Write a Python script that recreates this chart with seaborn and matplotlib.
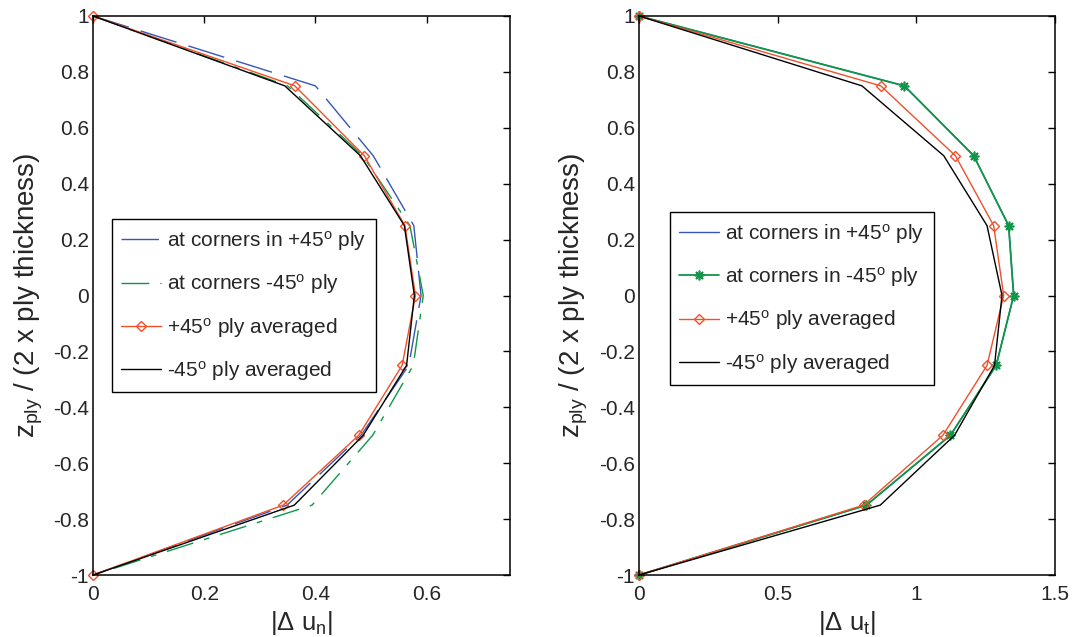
import matplotlib
matplotlib.use("Agg")
import matplotlib.pyplot as plt
import seaborn as sns

# Normalised through-thickness position of each sampling point
z_ply = [1.0, 0.75, 0.5, 0.25, 0.0, -0.25, -0.5, -0.75, -1.0]

# Normal jump |Δu_n|
un_corner_pos45 = [0.0, 0.400, 0.504, 0.577, 0.590, 0.568, 0.482, 0.349, 0.0]
un_corner_neg45 = [0.0, 0.350, 0.485, 0.570, 0.594, 0.576, 0.503, 0.394, 0.0]
un_avg_pos45 = [0.0, 0.363, 0.488, 0.561, 0.580, 0.556, 0.478, 0.342, 0.0]
un_avg_neg45 = [0.0, 0.345, 0.481, 0.560, 0.578, 0.564, 0.486, 0.362, 0.0]

# Tangential jump |Δu_t|
ut_corner_pos45 = [0.0, 0.957, 1.207, 1.333, 1.351, 1.288, 1.123, 0.820, 0.0]
ut_corner_neg45 = [0.0, 0.957, 1.207, 1.333, 1.351, 1.288, 1.123, 0.820, 0.0]
ut_avg_pos45 = [0.0, 0.872, 1.141, 1.279, 1.315, 1.255, 1.096, 0.810, 0.0]
ut_avg_neg45 = [0.0, 0.804, 1.099, 1.255, 1.309, 1.282, 1.138, 0.870, 0.0]

y_ticks = [-1, -0.8, -0.6, -0.4, -0.2, 0, 0.2, 0.4, 0.6, 0.8, 1]
y_tick_labels = ["-1", "-0.8", "-0.6", "-0.4", "-0.2", "0", "0.2", "0.4", "0.6", "0.8", "1"]
un_ticks = [0, 0.2, 0.4, 0.6]
un_tick_labels = ["0", "0.2", "0.4", "0.6"]
ut_ticks = [0, 0.5, 1, 1.5]
ut_tick_labels = ["0", "0.5", "1", "1.5"]

DEG = "$^{\\mathrm{o}}$"
labels_n = [f"at corners in +45{DEG} ply", f"at corners -45{DEG} ply",
            f"+45{DEG} ply averaged", f"-45{DEG} ply averaged"]
labels_t = [f"at corners in +45{DEG} ply", f"at corners in -45{DEG} ply",
            f"+45{DEG} ply averaged", f"-45{DEG} ply averaged"]

sns.set_style("white")
plt.rcParams.update({
    "font.family": ["Liberation Sans", "DejaVu Sans"],
    "mathtext.fontset": "custom",
    "mathtext.rm": "Liberation Sans",
    "mathtext.it": "Liberation Sans",
    "mathtext.sf": "Liberation Sans",
    "axes.unicode_minus": False,
    "axes.edgecolor": "black",
    "axes.linewidth": 1.1,
})

BLUE = "#3656b8"
GREEN = "#0f9648"
ORANGE = "#f0502a"
BLACK = "#000000"

fig = plt.figure(figsize=(10.73, 6.37), dpi=100)
ax_n = fig.add_axes([0.0867, 0.0973, 0.3886, 0.8776])
ax_t = fig.add_axes([0.5955, 0.0973, 0.3877, 0.8776])


def profile(ax, values, **kw):
    sns.lineplot(x=values, y=z_ply, orient="y", sort=False, estimator=None,
                 errorbar=None, ax=ax, legend=False, clip_on=False, **kw)


# Left panel: normal jump
profile(ax_n, un_corner_pos45, color=BLUE, lw=1.0, linestyle=(0, (27, 9)),
        label=labels_n[0])
profile(ax_n, un_corner_neg45, color=GREEN, lw=1.0, linestyle=(0, (20, 8, 4, 8)),
        label=labels_n[1])
profile(ax_n, un_avg_pos45, color=ORANGE, lw=1.0, marker="D", markersize=5,
        markerfacecolor="none", markeredgecolor=ORANGE, markeredgewidth=1.0,
        label=labels_n[2])
profile(ax_n, un_avg_neg45, color=BLACK, lw=1.0, label=labels_n[3])

# Right panel: tangential jump
profile(ax_t, ut_corner_pos45, color=BLUE, lw=1.0, label=labels_t[0])
profile(ax_t, ut_corner_neg45, color=GREEN, lw=1.3, marker=(8, 2, 0), markersize=7,
        markeredgecolor=GREEN, markeredgewidth=1.2, label=labels_t[1])
profile(ax_t, ut_avg_pos45, color=ORANGE, lw=1.0, marker="D", markersize=5,
        markerfacecolor="none", markeredgecolor=ORANGE, markeredgewidth=1.0,
        label=labels_t[2])
profile(ax_t, ut_avg_neg45, color=BLACK, lw=1.0, label=labels_t[3])

for ax, xt, xtl, xmax, xlabel in [
    (ax_n, un_ticks, un_tick_labels, 0.75, "|Δ u$_{\\mathrm{n}}$|"),
    (ax_t, ut_ticks, ut_tick_labels, 1.5, "|Δ u$_{\\mathrm{t}}$|"),
]:
    ax.set_xlim(0, xmax)
    ax.set_ylim(-1, 1)
    ax.set_xticks(xt)
    ax.set_xticklabels(xtl)
    ax.set_yticks(y_ticks)
    ax.set_yticklabels(y_tick_labels)
    ax.tick_params(axis="both", direction="in", length=5, width=1.0,
                   top=True, right=True, labelsize=15, color="black")
    ax.tick_params(axis="x", pad=7)
    ax.tick_params(axis="y", pad=3)
    ax.set_xlabel(xlabel, fontsize=18.5, labelpad=4)
    ax.set_ylabel("z$_{\\mathrm{ply}}$ / (2 x ply thickness)", fontsize=20,
                  labelpad=6)
    for s in ax.spines.values():
        s.set_visible(True)
        s.set_color("black")

leg_kw = dict(loc="upper left", fontsize=15, frameon=True, fancybox=False,
              edgecolor="black", framealpha=1.0, borderaxespad=0.0,
              handlelength=1.9, handletextpad=0.3, labelspacing=0.93,
              borderpad=0.45)
leg_n = ax_n.legend(bbox_to_anchor=(0.0456, 0.636), **leg_kw)
leg_t = ax_t.legend(bbox_to_anchor=(0.0745, 0.649), **leg_kw)
for leg in (leg_n, leg_t):
    leg.get_frame().set_linewidth(1.0)

fig.savefig("out.png", dpi=100)
